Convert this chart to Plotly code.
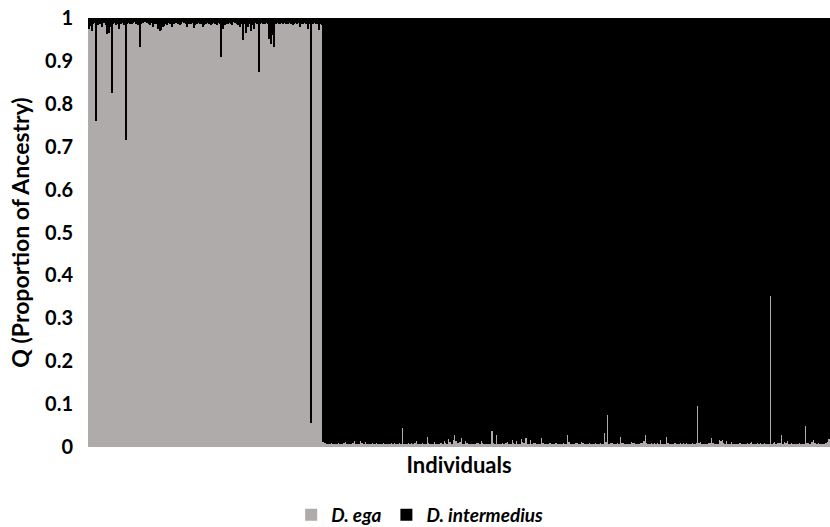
import plotly.graph_objects as go

# Proportion of ancestry assigned to D. ega for each individual
ega_group = [
    0.975,0.982,0.970,0.986,0.988,0.760,0.984,0.987,0.985,0.978,0.988,0.983,0.962,0.965,0.980,0.825,
    0.986,0.988,0.983,0.987,0.975,0.985,0.988,0.984,0.715,0.986,0.989,0.987,0.985,0.988,0.990,0.986,
    0.984,0.933,0.986,0.988,0.990,0.991,0.989,0.986,0.983,0.988,0.980,0.985,0.987,0.975,0.970,0.972,
    0.978,0.982,0.986,0.984,0.988,0.987,0.979,0.985,0.989,0.988,0.986,0.983,0.987,0.990,0.988,0.985,
    0.980,0.987,0.985,0.988,0.976,0.984,0.986,0.989,0.987,0.985,0.978,0.984,0.986,0.988,0.985,0.983,
    0.987,0.989,0.986,0.984,0.988,0.986,0.910,0.975,0.984,0.987,0.985,0.988,0.986,0.983,0.990,0.988,
    0.986,0.984,0.978,0.985,0.949,0.987,0.965,0.980,0.986,0.970,0.984,0.975,0.988,0.986,0.873,0.985,
    0.988,0.987,0.986,0.989,0.987,0.950,0.940,0.960,0.933,0.986,0.988,0.985,0.987,0.989,0.986,0.988,
    0.987,0.985,0.988,0.986,0.984,0.987,0.989,0.986,0.988,0.980,0.987,0.985,0.988,0.986,0.974,0.985,
    0.055,0.986,0.988,0.985,0.987,0.972,0.986,0.984,
]
intermedius_group_ega = [
    0.012,0.009,0.007,0.008,0.006,0.010,0.008,0.007,0.007,0.006,0.009,0.008,0.007,0.009,0.012,0.008,
    0.007,0.008,0.006,0.009,0.015,0.008,0.007,0.007,0.013,0.009,0.007,0.011,0.008,0.006,0.007,0.007,
    0.009,0.007,0.009,0.008,0.006,0.007,0.007,0.009,0.008,0.006,0.008,0.007,0.009,0.007,0.010,0.008,
    0.007,0.009,0.008,0.045,0.007,0.007,0.006,0.009,0.008,0.009,0.007,0.009,0.014,0.008,0.007,0.007,
    0.009,0.008,0.008,0.023,0.009,0.007,0.007,0.008,0.012,0.007,0.008,0.008,0.009,0.007,0.015,0.009,
    0.008,0.018,0.012,0.007,0.016,0.027,0.014,0.009,0.012,0.020,0.007,0.008,0.013,0.009,0.007,0.008,
    0.008,0.007,0.007,0.010,0.009,0.008,0.014,0.009,0.007,0.008,0.008,0.007,0.007,0.037,0.009,0.008,
    0.029,0.007,0.007,0.008,0.010,0.007,0.009,0.012,0.008,0.008,0.016,0.009,0.007,0.014,0.007,0.008,
    0.018,0.012,0.009,0.020,0.008,0.007,0.016,0.007,0.009,0.010,0.008,0.007,0.008,0.022,0.009,0.008,
    0.007,0.007,0.009,0.009,0.008,0.007,0.010,0.009,0.008,0.008,0.007,0.009,0.008,0.007,0.029,0.012,
    0.008,0.007,0.007,0.009,0.009,0.008,0.007,0.012,0.009,0.008,0.008,0.007,0.009,0.008,0.007,0.007,
    0.009,0.008,0.007,0.009,0.008,0.007,0.033,0.012,0.075,0.008,0.009,0.010,0.008,0.007,0.009,0.008,
    0.023,0.010,0.009,0.007,0.007,0.008,0.007,0.012,0.009,0.009,0.007,0.008,0.007,0.010,0.009,0.013,
    0.027,0.009,0.008,0.007,0.009,0.008,0.009,0.007,0.009,0.008,0.016,0.007,0.008,0.007,0.023,0.009,
    0.008,0.008,0.007,0.009,0.010,0.008,0.007,0.009,0.008,0.009,0.007,0.009,0.007,0.008,0.007,0.009,
    0.008,0.010,0.095,0.009,0.012,0.008,0.008,0.007,0.007,0.009,0.010,0.022,0.009,0.008,0.008,0.007,
    0.016,0.015,0.016,0.009,0.008,0.014,0.007,0.007,0.012,0.008,0.008,0.008,0.007,0.010,0.009,0.008,
    0.007,0.007,0.009,0.008,0.009,0.012,0.007,0.008,0.008,0.009,0.007,0.010,0.008,0.009,0.007,0.008,
    0.008,0.353,0.008,0.009,0.012,0.007,0.010,0.009,0.029,0.008,0.012,0.009,0.015,0.008,0.007,0.009,
    0.008,0.007,0.007,0.008,0.009,0.007,0.008,0.008,0.048,0.009,0.010,0.008,0.012,0.016,0.009,0.007,
    0.009,0.008,0.006,0.007,0.007,0.009,0.012,0.018,
]

q_ega = ega_group + intermedius_group_ega
q_intermedius = [round(1 - v, 3) for v in q_ega]
individuals = list(range(1, len(q_ega) + 1))

series_names = ["<i>D. ega</i>", "<i>D. intermedius</i>"]
y_ticks = [round(i * 0.1, 1) for i in range(11)]
y_tick_labels = ["0", "0.1", "0.2", "0.3", "0.4", "0.5", "0.6", "0.7", "0.8", "0.9", "1"]

FONT = "Lato"
fig = go.Figure()
fig.add_trace(go.Bar(x=individuals, y=q_ega, name=series_names[0],
                     marker=dict(color="#AFABAB", line=dict(width=0))))
fig.add_trace(go.Bar(x=individuals, y=q_intermedius, name=series_names[1],
                     marker=dict(color="#000000", line=dict(width=0))))

fig.update_layout(
    width=830, height=527,
    margin=dict(l=88, r=0, t=18, b=80, autoexpand=False),
    barmode="stack", bargap=0,
    plot_bgcolor="white", paper_bgcolor="white",
    font=dict(family=FONT, color="#000000"),
    showlegend=True,
    legend=dict(orientation="h", x=0.447, xanchor="center",
                y=0.023, yref="container", yanchor="middle",
                font=dict(size=19, family=FONT, weight="bold"), itemwidth=30,
                traceorder="normal"),
    xaxis=dict(range=[0.5, len(q_ega) + 0.5], showticklabels=False, ticks="",
               showgrid=False, zeroline=False, showline=False, automargin=False,
               title=dict(text="Individuals", font=dict(size=22, family=FONT, weight="bold"),
                          standoff=10)),
    yaxis=dict(range=[0, 1], tickvals=y_ticks, ticktext=y_tick_labels,
               showgrid=False, zeroline=False, showline=False, automargin=False,
               ticks="outside", ticklen=10, tickcolor="rgba(0,0,0,0)",
               tickfont=dict(size=20, family=FONT, weight="bold"),
               title=dict(text="Q (Proportion of Ancestry)",
                          font=dict(size=23, family=FONT, weight="bold"), standoff=8)),
)

fig.write_html("out.html", config={"displayModeBar": False},
               post_script="document.body.style.margin='0';document.body.style.overflow='hidden';")
